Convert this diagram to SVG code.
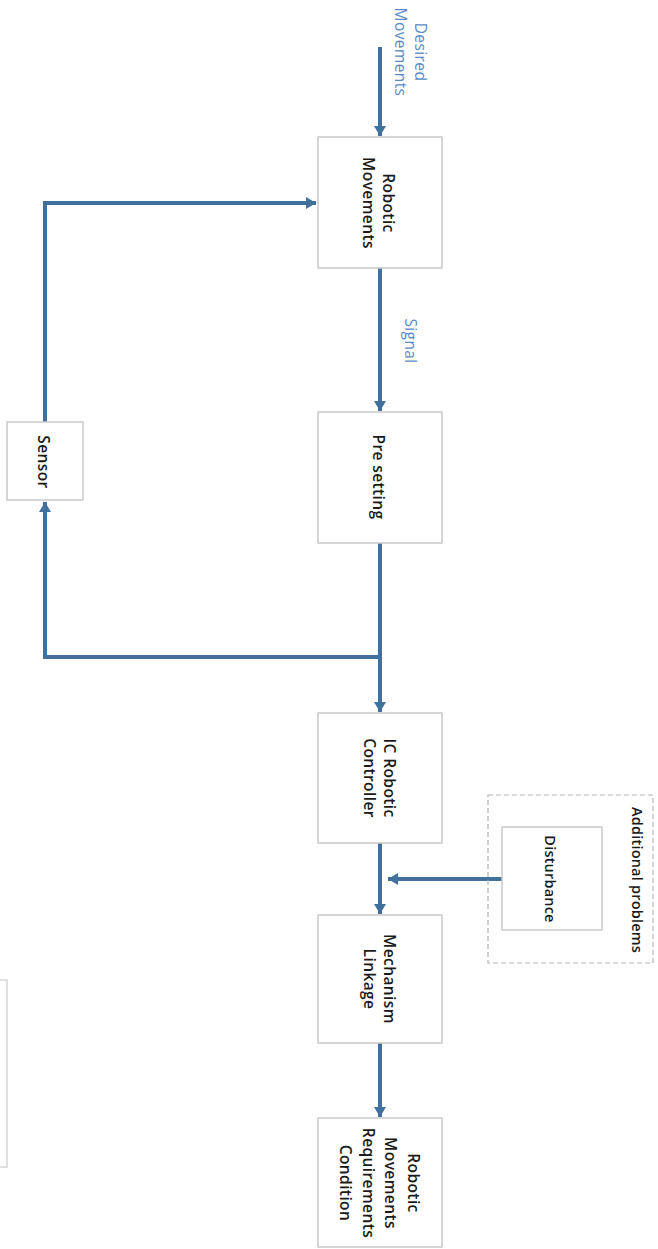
<svg xmlns="http://www.w3.org/2000/svg" width="658" height="1249" viewBox="0 0 658 1249">
  <defs>
    <marker id="arrow" markerUnits="userSpaceOnUse" markerWidth="12" markerHeight="12" refX="10" refY="6" orient="auto">
      <path d="M0,0 L10,6 L0,12 z" fill="#41709c"/>
    </marker>
    <style>
      .box { fill: #ffffff; stroke: #c9c9c9; stroke-width: 1.5; }
      .dash { fill: none; stroke: #b5b5b5; stroke-width: 1.2; stroke-dasharray: 5 3; }
      .faint { fill: none; stroke: #d6d6d6; stroke-width: 1.5; }
      .wire { fill: none; stroke: #41709c; stroke-width: 4; }
      .lbl { font-family: "Open Sans", "Liberation Sans", sans-serif; font-size: 15.5px; font-weight: 600; letter-spacing: 0.4px; fill: #1a1a1a; text-anchor: middle; }
      .title { font-size: 14.5px; letter-spacing: 0.2px; }
      .note { font-family: "Open Sans", "Liberation Sans", sans-serif; font-size: 15.5px; letter-spacing: 0.4px; fill: #5a8ac6; text-anchor: middle; }
    </style>
  </defs>
  <rect width="658" height="1249" fill="#ffffff"/>

  <!-- connectors -->
  <g id="connectors">
    <line class="wire" x1="380" y1="47" x2="380" y2="136" marker-end="url(#arrow)"/>
    <line class="wire" x1="380" y1="268" x2="380" y2="411" marker-end="url(#arrow)"/>
    <line class="wire" x1="380" y1="543" x2="380" y2="712" marker-end="url(#arrow)"/>
    <polyline class="wire" points="380,657 45,657 45,502" marker-end="url(#arrow)"/>
    <polyline class="wire" points="45,422 45,203 316,203" marker-end="url(#arrow)"/>
    <line class="wire" x1="380" y1="843" x2="380" y2="914" marker-end="url(#arrow)"/>
    <line class="wire" x1="504" y1="879" x2="388" y2="879" marker-end="url(#arrow)"/>
    <line class="wire" x1="380" y1="1043" x2="380" y2="1117" marker-end="url(#arrow)"/>
  </g>

  <!-- input and signal labels -->
  <text class="note" transform="translate(410,52) rotate(90)"><tspan x="0" y="-5">Desired</tspan><tspan x="0" y="15">Movements</tspan></text>
  <text class="note" transform="translate(410,341) rotate(90)"><tspan x="0" y="5">Signal</tspan></text>

  <g id="robotic-movements">
    <rect class="box" x="318" y="137" width="124" height="131"/>
    <text class="lbl" transform="translate(380,203) rotate(90)"><tspan x="0" y="-3">Robotic</tspan><tspan x="0" y="17">Movements</tspan></text>
  </g>

  <g id="pre-setting">
    <rect class="box" x="318" y="412" width="124" height="131"/>
    <text class="lbl" transform="translate(380,477) rotate(90)"><tspan x="0" y="7">Pre setting</tspan></text>
  </g>

  <g id="sensor">
    <rect class="box" x="7" y="422" width="76" height="78"/>
    <text class="lbl" transform="translate(44,462) rotate(90)"><tspan x="0" y="6">Sensor</tspan></text>
  </g>

  <g id="ic-robotic-controller">
    <rect class="box" x="318" y="713" width="124" height="130"/>
    <text class="lbl" transform="translate(380,778) rotate(90)"><tspan x="0" y="-4">IC Robotic</tspan><tspan x="0" y="16">Controller</tspan></text>
  </g>

  <g id="additional-problems">
    <rect class="dash" x="488" y="795" width="165" height="168"/>
    <text class="lbl title" transform="translate(640,880) rotate(90)"><tspan x="0" y="8">Additional problems</tspan></text>
  </g>

  <g id="disturbance">
    <rect class="box" x="502" y="827" width="100" height="103"/>
    <text class="lbl title" transform="translate(551,879) rotate(90)"><tspan x="0" y="6">Disturbance</tspan></text>
  </g>

  <g id="mechanism-linkage">
    <rect class="box" x="318" y="915" width="124" height="128"/>
    <text class="lbl" transform="translate(380,979) rotate(90)"><tspan x="0" y="-4">Mechanism</tspan><tspan x="0" y="16">Linkage</tspan></text>
  </g>

  <g id="requirements-condition">
    <rect class="box" x="318" y="1118" width="124" height="129"/>
    <text class="lbl" transform="translate(380,1183) rotate(90)"><tspan x="0" y="-28">Robotic</tspan><tspan x="0" y="-5">Movements</tspan><tspan x="0" y="17">Requirements</tspan><tspan x="0" y="40">Condition</tspan></text>
  </g>

  <g id="edge-box">
    <rect class="faint" x="-4" y="980" width="11" height="187"/>
  </g>
</svg>
